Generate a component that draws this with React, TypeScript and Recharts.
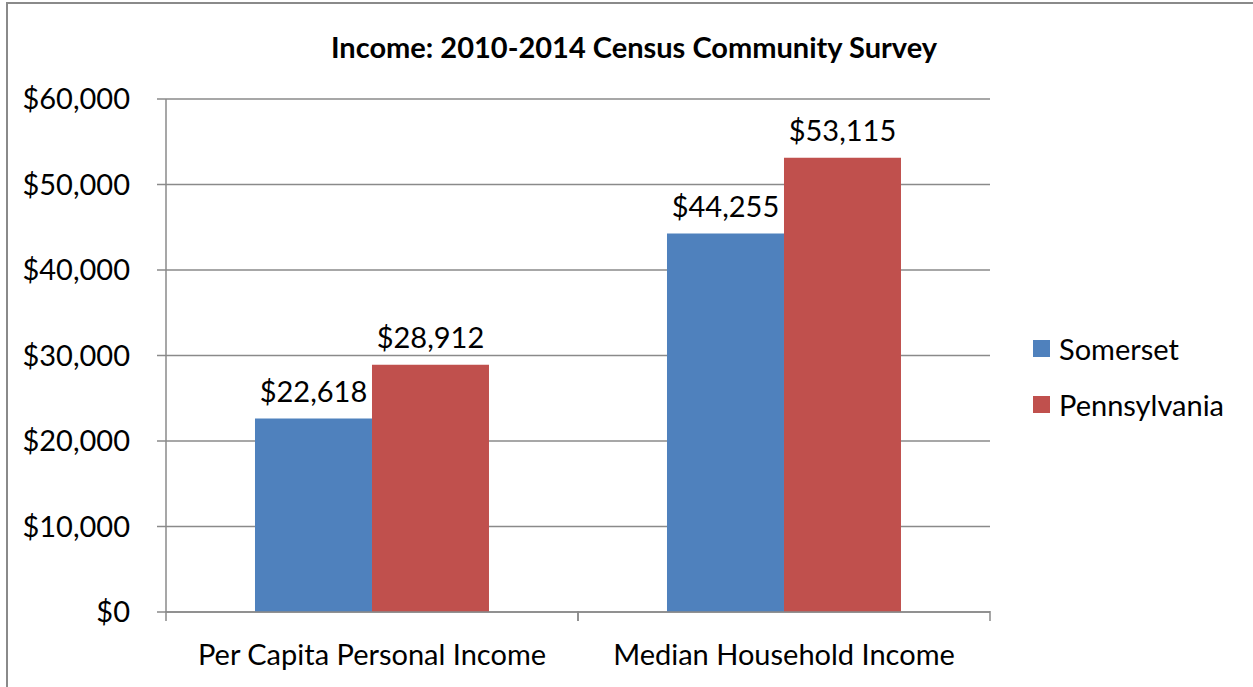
import { BarChart, Bar, XAxis, YAxis, CartesianGrid, LabelList } from "recharts";

const categories = ["Per Capita Personal Income", "Median Household Income"];
const somerset = [22618, 44255];
const pennsylvania = [28912, 53115];
const yTicks = [0, 10000, 20000, 30000, 40000, 50000, 60000];

const data = categories.map((name, i) => ({
  name,
  somerset: somerset[i],
  pennsylvania: pennsylvania[i],
}));

const FONT = "Lato, 'Open Sans', sans-serif";
const FS = 29;
const BLUE = "#4F81BD";
const RED = "#C0504D";
const GRID = "#8a8a8a";

const money = (v: number) => "$" + v.toLocaleString("en-US");

function CategoryTick(props: any) {
  const { x, y, payload } = props;
  const off = payload.offset ?? 0;
  return (
    <g>
      <line x1={x - off} x2={x - off} y1={y - 9} y2={y + 1} stroke={GRID} strokeWidth={1.5} />
      <line x1={x + off} x2={x + off} y1={y - 9} y2={y + 1} stroke={GRID} strokeWidth={1.5} />
      <text x={x} y={y + 45} textAnchor="middle" fontSize={FS} fill="#000" fontFamily={FONT}>
        {payload.value}
      </text>
    </g>
  );
}

export default function App() {
  return (
    <div
      style={{
        position: "absolute",
        left: 0,
        top: 0,
        width: 1253,
        height: 687,
        background: "#fff",
        fontFamily: FONT,
        overflow: "hidden",
      }}
    >
      <div
        style={{
          position: "absolute",
          left: 6,
          top: 2,
          width: 1300,
          height: 720,
          borderLeft: "2px solid #8a8a8a",
          borderTop: "2px solid #8a8a8a",
        }}
      />
      <div
        style={{
          position: "absolute",
          left: 0,
          top: 29,
          width: 1268,
          textAlign: "center",
          fontSize: 29,
          lineHeight: "36px",
          fontWeight: 700,
          color: "#000",
        }}
      >
        Income: 2010-2014 Census Community Survey
      </div>
      <div style={{ position: "absolute", left: 0, top: 0 }}>
        <BarChart
          width={1253}
          height={687}
          data={data}
          margin={{ top: 99, right: 263, bottom: 15, left: 26 }}
          barCategoryGap="21.6%"
          barGap={0}
        >
          <CartesianGrid vertical={false} stroke={GRID} strokeWidth={1.5} />
          <XAxis
            dataKey="name"
            height={60}
            axisLine={{ stroke: GRID, strokeWidth: 1.5 }}
            tickLine={false}
            tick={<CategoryTick />}
            interval={0}
          />
          <YAxis
            width={140}
            domain={[0, 60000]}
            ticks={yTicks}
            tickFormatter={money}
            axisLine={{ stroke: GRID, strokeWidth: 1.5 }}
            tickLine={{ stroke: GRID, strokeWidth: 1.5 }}
            tickSize={9}
            tickMargin={27}
            tick={{ fontSize: FS, fill: "#000", fontFamily: FONT }}
          />
          <Bar dataKey="somerset" fill={BLUE} isAnimationActive={false}>
            <LabelList
              dataKey="somerset"
              position="top"
              offset={17}
              formatter={(v: any) => money(Number(v))}
              style={{ fontSize: FS, fill: "#000", fontFamily: FONT }}
            />
          </Bar>
          <Bar dataKey="pennsylvania" fill={RED} isAnimationActive={false}>
            <LabelList
              dataKey="pennsylvania"
              position="top"
              offset={17}
              formatter={(v: any) => money(Number(v))}
              style={{ fontSize: FS, fill: "#000", fontFamily: FONT }}
            />
          </Bar>
        </BarChart>
      </div>
      <div style={{ position: "absolute", left: 1033, top: 331, fontSize: FS, color: "#000" }}>
        {[
          { label: "Somerset", color: BLUE },
          { label: "Pennsylvania", color: RED },
        ].map((it) => (
          <div key={it.label} style={{ display: "flex", alignItems: "center", height: 35, marginBottom: 21 }}>
            <span style={{ width: 17, height: 17, background: it.color, display: "inline-block", marginRight: 9 }} />
            <span>{it.label}</span>
          </div>
        ))}
      </div>
    </div>
  );
}
